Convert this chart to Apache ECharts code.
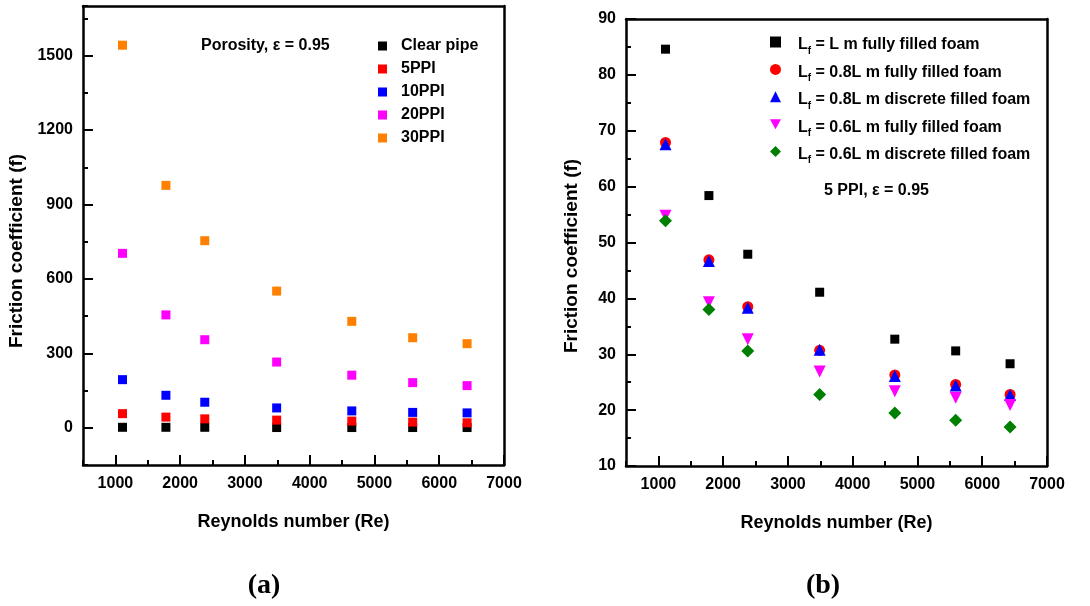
<!DOCTYPE html>
<html><head><meta charset="utf-8">
<script src="https://cdn.jsdelivr.net/npm/echarts@6/dist/echarts.min.js"></script>
<style>html,body{margin:0;padding:0;background:#fff}#c{width:1090px;height:606px}</style>
</head><body><div id="c"></div>
<script>
// ---- data ----
const reynolds = [1110, 1780, 2380, 3490, 4650, 5590, 6430];

const leftNames = ['Clear pipe', '5PPI', '10PPI', '20PPI', '30PPI'];
const clearPipe = [2, 2, 2, 1, 1, 1, 1];
const ppi5 = [57, 43, 36, 31, 27, 23, 20];
const ppi10 = [194, 131, 103, 80, 68, 62, 60];
const ppi20 = [703, 455, 355, 265, 212, 182, 170];
const ppi30 = [1542, 977, 754, 551, 429, 363, 339];

const rightNames = ['Lf = L m fully filled foam', 'Lf = 0.8L m fully filled foam', 'Lf = 0.8L m discrete filled foam', 'Lf = 0.6L m fully filled foam', 'Lf = 0.6L m discrete filled foam'];
const fullL = [84.6, 58.4, 47.9, 41.1, 32.7, 30.6, 28.3];
const full08 = [67.9, 46.9, 38.5, 30.7, 26.3, 24.6, 22.8];
const disc08 = [67.6, 46.7, 38.3, 30.8, 26.1, 24.4, 22.7];
const full06 = [54.8, 39.3, 32.7, 26.9, 23.4, 22.2, 20.9];
const disc06 = [53.9, 38.0, 30.6, 22.8, 19.5, 18.2, 17.0];

// axis ranges / tick steps
const xRange = [500, 7000], xMajor = 1000, xMinor = 500;
const leftYRange = [-150, 1700], leftYLabelRange = [0, 1500], leftYMajor = 300, leftYMinor = 150;
const rightYRange = [10, 90], rightYMajor = 10, rightYMinor = 5;

// ---- layout ----
const FONT = 'Liberation Sans';
const L = {left: 83, top: 6, width: 421, height: 459};
const R = {left: 626, top: 19, width: 421, height: 447};
const MAJ = 10, MIN = 5;

const leftColors = ['#000000', '#ff0000', '#0000ff', '#ff00ff', '#ff8000'];
const rightColors = ['#000000', '#ff0000', '#0000ff', '#ff00ff', '#008000'];
const downTriangle = 'path://M0,0L10,0L5,9Z';
const rightSymbols = ['rect', 'circle', 'triangle', downTriangle, 'diamond'];
const rightSizes = [9, 11, 12, 12, 13];

const pair = arr => arr.map((v, i) => [reynolds[i], v]);
const leftData = [clearPipe, ppi5, ppi10, ppi20, ppi30];
const rightData = [fullL, full08, disc08, full06, disc06];

const labelStyle = () => ({color: '#000', fontFamily: FONT, fontWeight: 'bold', fontSize: 16});
const lineStyle = () => ({color: '#000', width: 2.5});
const every = step => v => (Math.abs(v % step) < 1e-9 ? String(v) : '');

const grids = [L, R];
const xAxes = [];
const yAxes = [];

function mainX(grid) {
  return {
    type: 'value', gridIndex: grid, position: 'bottom', min: xRange[0], max: xRange[1], interval: xMinor,
    axisLine: {show: true, onZero: false, lineStyle: lineStyle()},
    axisTick: {show: false},
    axisLabel: Object.assign({margin: 11, formatter: every(xMajor)}, labelStyle()),
    splitLine: {show: false},
    name: 'Reynolds number (Re)', nameLocation: 'middle', nameGap: 48,
    nameTextStyle: {color: '#000', fontFamily: FONT, fontWeight: 'bold', fontSize: 18}
  };
}
xAxes.push(mainX(0), mainX(1));
yAxes.push(
  {
    type: 'value', gridIndex: 0, position: 'left', min: leftYRange[0], max: leftYRange[1], interval: leftYMinor,
    axisLine: {show: true, onZero: false, lineStyle: lineStyle()},
    axisTick: {show: false},
    axisLabel: Object.assign({margin: 10, formatter: every(leftYMajor)}, labelStyle()),
    splitLine: {show: false}
  },
  {
    type: 'value', gridIndex: 1, position: 'left', min: rightYRange[0], max: rightYRange[1], interval: rightYMajor,
    axisLine: {show: true, onZero: false, lineStyle: lineStyle()},
    axisTick: {show: false},
    axisLabel: Object.assign({margin: 10, formatter: v => String(v)}, labelStyle()),
    splitLine: {show: false}
  }
);
// top / right frame lines
[[0, xRange, leftYRange], [1, xRange, rightYRange]].forEach(([g, xr, yr]) => {
  xAxes.push({type: 'value', gridIndex: g, position: 'top', min: xr[0], max: xr[1],
    axisLine: {show: true, onZero: false, lineStyle: lineStyle()}, axisTick: {show: false}, axisLabel: {show: false}, splitLine: {show: false}});
  yAxes.push({type: 'value', gridIndex: g, position: 'right', min: yr[0], max: yr[1],
    axisLine: {show: true, onZero: false, lineStyle: lineStyle()}, axisTick: {show: false}, axisLabel: {show: false}, splitLine: {show: false}});
});

// inward tick marks: thin strip grids along the axes whose split lines act as ticks
function hidden(g) { return {type: 'value', gridIndex: g, min: 0, max: 1, show: false}; }
function xTickStrip(P, from, to, step, len) {
  const left = P.left + (from - xRange[0]) / (xRange[1] - xRange[0]) * P.width;
  const g = grids.length;
  grids.push({left: left, top: P.top + P.height - len, width: P.left + P.width - left, height: len});
  xAxes.push({type: 'value', gridIndex: g, min: from, max: to, interval: step,
    axisLine: {show: false}, axisTick: {show: false}, axisLabel: {show: false},
    splitLine: {show: true, lineStyle: {color: '#000', width: 2}}});
  yAxes.push(hidden(g));
}
function yTickStrip(P, range, from, to, step, len) {
  const span = range[1] - range[0];
  const top = P.top + (range[1] - to) / span * P.height;
  const bottom = P.top + (range[1] - from) / span * P.height;
  const g = grids.length;
  grids.push({left: P.left, top: top, width: len, height: bottom - top});
  yAxes.push({type: 'value', gridIndex: g, min: from, max: to, interval: step,
    axisLine: {show: false}, axisTick: {show: false}, axisLabel: {show: false},
    splitLine: {show: true, lineStyle: {color: '#000', width: 2}}});
  xAxes.push(hidden(g));
}
xTickStrip(L, xMajor, xRange[1], xMajor, MAJ);
xTickStrip(L, xRange[0], xRange[1], xMinor, MIN);
xTickStrip(R, xMajor, xRange[1], xMajor, MAJ);
xTickStrip(R, xRange[0], xRange[1], xMinor, MIN);
yTickStrip(L, leftYRange, leftYLabelRange[0], leftYLabelRange[1], leftYMajor, MAJ);
yTickStrip(L, leftYRange, leftYRange[0], leftYRange[1], leftYMinor, MIN);
yTickStrip(R, rightYRange, rightYRange[0], rightYRange[1], rightYMajor, MAJ);
yTickStrip(R, rightYRange, rightYRange[0], rightYRange[1], rightYMinor, MIN);

const option = {
  animation: false,
  backgroundColor: '#ffffff',
  grid: grids,
  xAxis: xAxes,
  yAxis: yAxes,
  legend: [
    {
      data: leftNames, orient: 'vertical', left: 373, top: 32,
      itemWidth: 9, itemHeight: 9, itemGap: 5,
      textStyle: {color: '#000', fontFamily: FONT, fontWeight: 'bold', fontSize: 16, lineHeight: 18, padding: [0, 0, 0, 9]}
    },
    {
      data: rightNames, orient: 'vertical', left: 765, top: 29,
      itemWidth: 11, itemHeight: 11, itemGap: 5.4,
      formatter: name => '{a|L}{s|f}{a|' + name.slice(2) + '}',
      textStyle: {
        padding: [0, 0, 0, 12],
        rich: {
          a: {color: '#000', fontFamily: FONT, fontWeight: 'bold', fontSize: 16, lineHeight: 16, padding: [3, 0, 3, 0], verticalAlign: 'top'},
          s: {color: '#000', fontFamily: FONT, fontWeight: 'bold', fontSize: 10, lineHeight: 10, padding: [12, 0, 0, 0], verticalAlign: 'top'}
        }
      }
    }
  ],
  graphic: [
    {type: 'text', x: 201, y: 46, style: {text: 'Porosity, ε = 0.95', fill: '#000', font: 'bold 16px "Liberation Sans"', align: 'left', verticalAlign: 'middle'}},
    {type: 'text', x: 824, y: 191, style: {text: '5 PPI, ε = 0.95', fill: '#000', font: 'bold 16px "Liberation Sans"', align: 'left', verticalAlign: 'middle'}},
    {type: 'text', x: 17, y: 251, rotation: Math.PI / 2, style: {text: 'Friction coefficient (f)', fill: '#000', font: 'bold 19px "Liberation Sans"', align: 'center', verticalAlign: 'middle'}},
    {type: 'text', x: 572, y: 256, rotation: Math.PI / 2, style: {text: 'Friction coefficient (f)', fill: '#000', font: 'bold 19px "Liberation Sans"', align: 'center', verticalAlign: 'middle'}},
    {type: 'text', x: 264, y: 586, style: {text: '(a)', fill: '#000', font: 'bold 28px "Liberation Serif"', align: 'center', verticalAlign: 'middle'}},
    {type: 'text', x: 823, y: 586, style: {text: '(b)', fill: '#000', font: 'bold 28px "Liberation Serif"', align: 'center', verticalAlign: 'middle'}}
  ],
  series: [].concat(
    leftNames.map((n, k) => ({
      name: n, type: 'scatter', xAxisIndex: 0, yAxisIndex: 0,
      symbol: 'rect', symbolSize: 9,
      itemStyle: {color: leftColors[k], opacity: 1},
      data: pair(leftData[k])
    })),
    rightNames.map((n, k) => ({
      name: n, type: 'scatter', xAxisIndex: 1, yAxisIndex: 1,
      symbol: rightSymbols[k], symbolSize: rightSizes[k],
      itemStyle: {color: rightColors[k], opacity: 1},
      data: pair(rightData[k])
    }))
  )
};
const chart = echarts.init(document.getElementById('c'), null, {renderer: 'canvas'});
chart.setOption(option);
</script>
</body></html>
